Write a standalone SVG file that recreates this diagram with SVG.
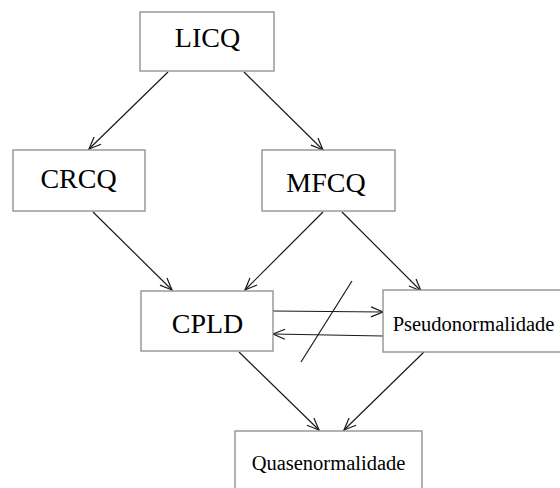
<svg xmlns="http://www.w3.org/2000/svg" width="560" height="488" viewBox="0 0 560 488">
<style>
.box{fill:#fff;stroke:#8a8a8a;stroke-width:1.3}
.big{font-family:"Liberation Serif",serif;font-size:28px;fill:#000;text-anchor:middle}
.small{font-family:"Liberation Serif",serif;font-size:20.5px;fill:#000;text-anchor:middle}
.edge{stroke:#1a1a1a;stroke-width:1.2;fill:none}
</style>
<defs>
<marker id="arr" markerUnits="userSpaceOnUse" viewBox="0 0 14 12" refX="13" refY="6" markerWidth="14" markerHeight="12" orient="auto">
<path d="M1,1 L13,6 L1,11" fill="none" stroke="#1a1a1a" stroke-width="1.2"/>
</marker>
</defs>
<g id="edges">
<line class="edge" x1="168" y1="72" x2="89" y2="149" marker-end="url(#arr)"/>
<line class="edge" x1="244" y1="72" x2="323" y2="150" marker-end="url(#arr)"/>
<line class="edge" x1="93" y1="212" x2="172" y2="290" marker-end="url(#arr)"/>
<line class="edge" x1="323" y1="212" x2="245" y2="290" marker-end="url(#arr)"/>
<line class="edge" x1="342" y1="212" x2="421" y2="291" marker-end="url(#arr)"/>
<line class="edge" x1="273" y1="311" x2="383" y2="312" marker-end="url(#arr)"/>
<line class="edge" x1="383" y1="336" x2="273" y2="334" marker-end="url(#arr)"/>
<line class="edge" x1="352" y1="281" x2="301" y2="362"/>
<line class="edge" x1="239" y1="352" x2="319" y2="430" marker-end="url(#arr)"/>
<line class="edge" x1="424" y1="352" x2="344" y2="430" marker-end="url(#arr)"/>
</g>
<g id="LICQ"><rect class="box" x="140" y="12" width="134" height="59"/><text class="big" x="207.5" y="47">LICQ</text></g>
<g id="CRCQ"><rect class="box" x="13" y="150" width="132" height="61"/><text class="big" x="78.5" y="188">CRCQ</text></g>
<g id="MFCQ"><rect class="box" x="262" y="150" width="133" height="61"/><text class="big" x="326" y="192">MFCQ</text></g>
<g id="CPLD"><rect class="box" x="141" y="291" width="132" height="60"/><text class="big" x="207.5" y="333">CPLD</text></g>
<g id="Pseudonormalidade"><rect class="box" x="383" y="290" width="180" height="62"/><text class="small" x="473.5" y="331">Pseudonormalidade</text></g>
<g id="Quasenormalidade"><rect class="box" x="235" y="431" width="187" height="62"/><text class="small" x="328.5" y="470">Quasenormalidade</text></g>
</svg>
